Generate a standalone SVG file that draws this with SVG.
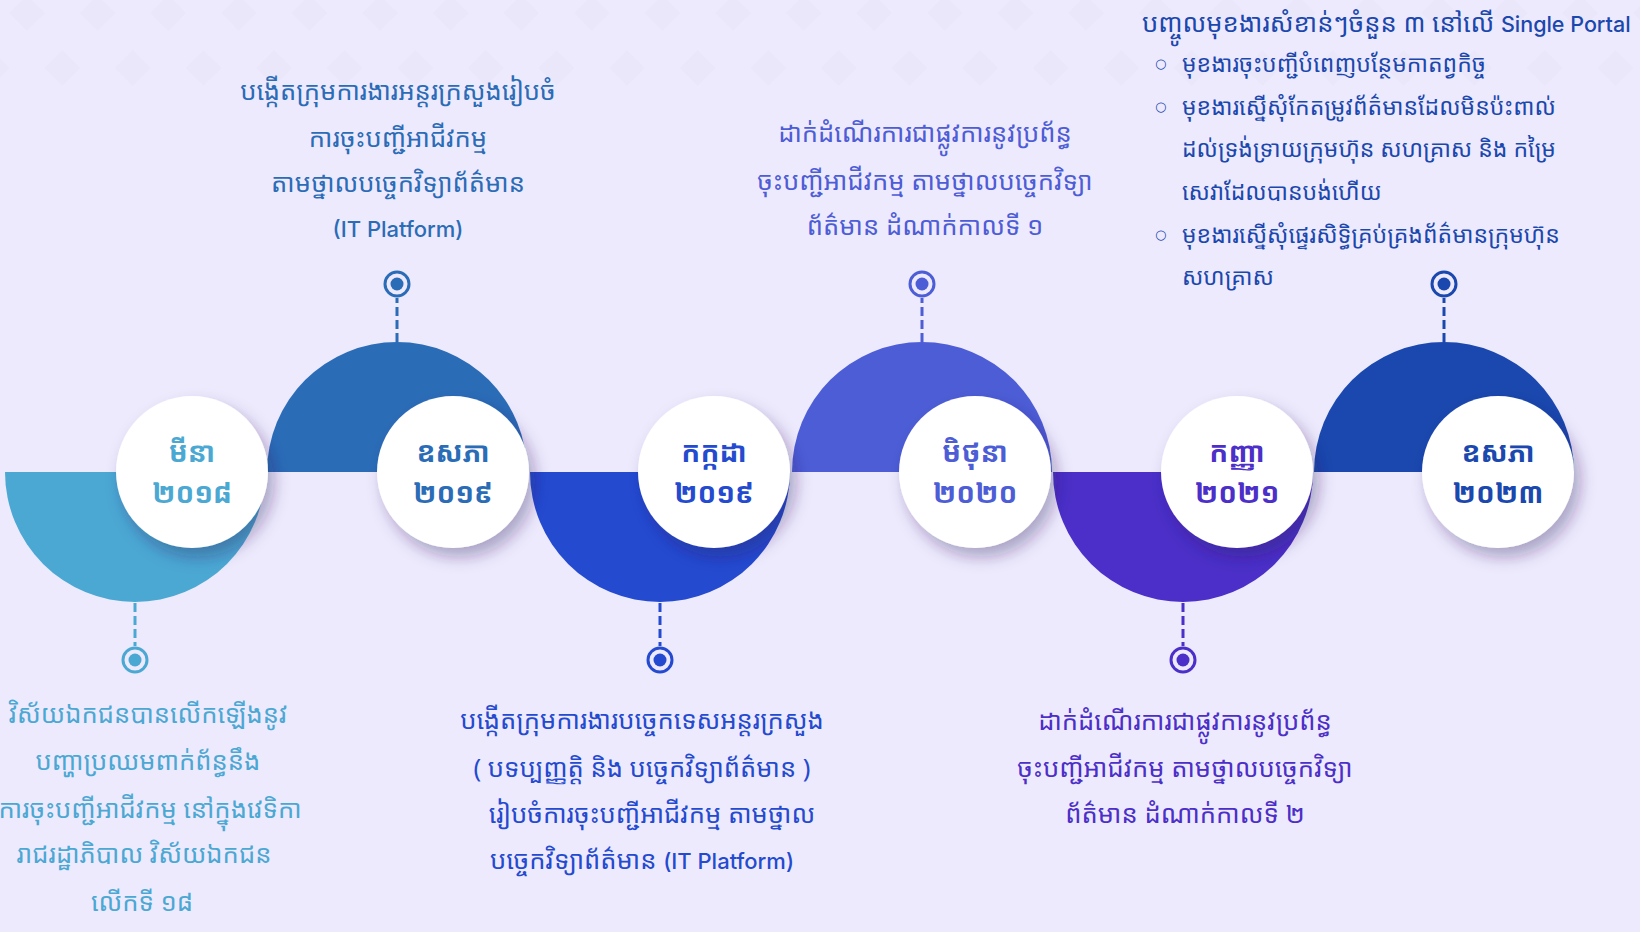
<svg xmlns="http://www.w3.org/2000/svg" width="1640" height="932" viewBox="0 0 1640 932">
<defs>
<style>
.km{font-family:"Noto Sans Khmer","Khmer OS","Khmer OS System","Noto Sans","DejaVu Sans",sans-serif;}
.body{font-size:25.6px;}
.sm{font-size:23px;}
.lbl{font-size:28px;font-weight:bold;text-anchor:middle;}
.lat{font-family:Inter,"Noto Sans","Liberation Sans",sans-serif;font-weight:500;}
.ctr{text-anchor:middle;}
.c1{fill:#4ba8d3;}
.c2{fill:#2b6cb7;}
.c3{fill:#244ad0;}
.c4{fill:#4d5dd6;}
.c5{fill:#4b2fc8;}
.c6{fill:#1a48ae;}
.dash{stroke-width:3;stroke-dasharray:9 4;fill:none;}
.ring{fill:none;stroke-width:3;}
.bul{font-family:"DejaVu Sans",sans-serif;font-size:13px;}
</style>
<pattern id="dia" x="0" y="0" width="70.6" height="110" patternUnits="userSpaceOnUse">
<path d="M27 -5 L45 13 L27 31 L9 13 Z" fill="#ebe7fb"/>
<path d="M62.3 50 L80.3 68 L62.3 86 L44.3 68 Z" fill="#ebe7fb"/>
<path d="M-8.3 50 L9.7 68 L-8.3 86 L-26.3 68 Z" fill="#ebe7fb"/>
</pattern>
<filter id="sh" x="-30%" y="-30%" width="170%" height="170%">
<feDropShadow dx="6" dy="9" stdDeviation="8" flood-color="#2a2460" flood-opacity="0.35"/>
</filter>
</defs>
<rect width="1640" height="932" fill="#eeeafd"/>
<rect id="bg-diamonds" x="0" y="0" width="1640" height="92" fill="url(#dia)"/>

<g id="connectors">
<path class="dash" stroke="#4ba8d3" d="M135 603 V646"/>
<path class="dash" stroke="#2b6cb7" d="M397 342 V298"/>
<path class="dash" stroke="#244ad0" d="M660 603 V646"/>
<path class="dash" stroke="#4d5dd6" d="M922 342 V298"/>
<path class="dash" stroke="#4b2fc8" d="M1183 603 V646"/>
<path class="dash" stroke="#1a48ae" d="M1444 342 V298"/>
</g>

<g id="step1">
<path class="c1" d="M5 472 A130 130 0 0 0 265 472 Z"/>
<circle class="ring" stroke="#4ba8d3" cx="135" cy="660" r="12"/><circle class="c1" cx="135" cy="660" r="6.5"/>
</g>
<g id="step2">
<path class="c2" d="M267 472 A130 130 0 0 1 527 472 Z"/>
<circle class="ring" stroke="#2b6cb7" cx="397" cy="284" r="12"/><circle class="c2" cx="397" cy="284" r="6.5"/>
</g>
<g id="step3">
<path class="c3" d="M530 472 A130 130 0 0 0 790 472 Z"/>
<circle class="ring" stroke="#244ad0" cx="660" cy="660" r="12"/><circle class="c3" cx="660" cy="660" r="6.5"/>
</g>
<g id="step4">
<path class="c4" d="M792 472 A130 130 0 0 1 1052 472 Z"/>
<circle class="ring" stroke="#4d5dd6" cx="922" cy="284" r="12"/><circle class="c4" cx="922" cy="284" r="6.5"/>
</g>
<g id="step5">
<path class="c5" d="M1053 472 A130 130 0 0 0 1313 472 Z"/>
<circle class="ring" stroke="#4b2fc8" cx="1183" cy="660" r="12"/><circle class="c5" cx="1183" cy="660" r="6.5"/>
</g>
<g id="step6">
<path class="c6" d="M1314 472 A130 130 0 0 1 1574 472 Z"/>
<circle class="ring" stroke="#1a48ae" cx="1444" cy="284" r="12"/><circle class="c6" cx="1444" cy="284" r="6.5"/>
</g>

<g id="node1"><circle cx="192" cy="472" r="76" fill="#fff" filter="url(#sh)"/>
<text class="km lbl c1" x="192" y="462">មីនា</text><text class="km lbl c1" x="192" y="503">២០១៨</text></g>
<g id="node2"><circle cx="453" cy="472" r="76" fill="#fff" filter="url(#sh)"/>
<text class="km lbl c2" x="453" y="462">ឧសភា</text><text class="km lbl c2" x="453" y="503">២០១៩</text></g>
<g id="node3"><circle cx="714" cy="472" r="76" fill="#fff" filter="url(#sh)"/>
<text class="km lbl c3" x="714" y="462">កក្កដា</text><text class="km lbl c3" x="714" y="503">២០១៩</text></g>
<g id="node4"><circle cx="975" cy="472" r="76" fill="#fff" filter="url(#sh)"/>
<text class="km lbl c4" x="975" y="462">មិថុនា</text><text class="km lbl c4" x="975" y="503">២០២០</text></g>
<g id="node5"><circle cx="1237" cy="472" r="76" fill="#fff" filter="url(#sh)"/>
<text class="km lbl c5" x="1237" y="462">កញ្ញា</text><text class="km lbl c5" x="1237" y="503">២០២១</text></g>
<g id="node6"><circle cx="1498" cy="472" r="76" fill="#fff" filter="url(#sh)"/>
<text class="km lbl c6" x="1498" y="462">ឧសភា</text><text class="km lbl c6" x="1498" y="503">២០២៣</text></g>

<g id="text2" class="km body ctr c2">
<text x="398" y="100">បង្កើតក្រុមការងារអន្តរក្រសួងរៀបចំ</text>
<text x="398" y="147">ការចុះបញ្ជីអាជីវកម្ម</text>
<text x="398" y="192">តាមថ្នាលបច្ចេកវិទ្យាព័ត៌មាន</text>
<text class="lat" x="398" y="237" font-size="22">(IT Platform)</text>
</g>
<g id="text4" class="km body ctr c4">
<text x="925" y="142">ដាក់ដំណើរការជាផ្លូវការនូវប្រព័ន្ធ</text>
<text x="925" y="190">ចុះបញ្ជីអាជីវកម្ម តាមថ្នាលបច្ចេកវិទ្យា</text>
<text x="925" y="235">ព័ត៌មាន ដំណាក់កាលទី ១</text>
</g>
<g id="text6" class="km c6">
<text class="body" x="1142" y="32">បញ្ចូលមុខងារសំខាន់ៗចំនួន ៣ នៅលើ <tspan class="lat" font-size="21.5">Single Portal</tspan></text>
<text class="bul" x="1155" y="68">○</text>
<text class="sm" x="1182" y="72">មុខងារចុះបញ្ជីបំពេញបន្ថែមកាតព្វកិច្ច</text>
<text class="bul" x="1155" y="111">○</text>
<text class="sm" x="1182" y="115">មុខងារស្នើសុំកែតម្រូវព័ត៌មានដែលមិនប៉ះពាល់</text>
<text class="sm" x="1182" y="157">ដល់ទ្រង់ទ្រាយក្រុមហ៊ុន សហគ្រាស និង កម្រៃ</text>
<text class="sm" x="1182" y="200">សេវាដែលបានបង់ហើយ</text>
<text class="bul" x="1155" y="239">○</text>
<text class="sm" x="1182" y="243">មុខងារស្នើសុំផ្ទេរសិទ្ធិគ្រប់គ្រងព័ត៌មានក្រុមហ៊ុន</text>
<text class="sm" x="1182" y="285">សហគ្រាស</text>
</g>
<g id="text1" class="km body ctr c1">
<text x="148" y="723">វិស័យឯកជនបានលើកឡើងនូវ</text>
<text x="148" y="770">បញ្ហាប្រឈមពាក់ព័ន្ធនឹង</text>
<text x="150" y="818">ការចុះបញ្ជីអាជីវកម្ម នៅក្នុងវេទិកា</text>
<text x="144" y="863">រាជរដ្ឋាភិបាល វិស័យឯកជន</text>
<text x="142" y="911">លើកទី ១៨</text>
</g>
<g id="text3" class="km body ctr c3">
<text x="642" y="729">បង្កើតក្រុមការងារបច្ចេកទេសអន្តរក្រសួង</text>
<text x="642" y="777">( បទប្បញ្ញត្តិ និង បច្ចេកវិទ្យាព័ត៌មាន )</text>
<text x="652" y="823">រៀបចំការចុះបញ្ជីអាជីវកម្ម តាមថ្នាល</text>
<text x="642" y="869">បច្ចេកវិទ្យាព័ត៌មាន <tspan class="lat" font-size="22">(IT Platform)</tspan></text>
</g>
<g id="text5" class="km body ctr c5">
<text x="1185" y="730">ដាក់ដំណើរការជាផ្លូវការនូវប្រព័ន្ធ</text>
<text x="1185" y="777">ចុះបញ្ជីអាជីវកម្ម តាមថ្នាលបច្ចេកវិទ្យា</text>
<text x="1185" y="823">ព័ត៌មាន ដំណាក់កាលទី ២</text>
</g>
</svg>
